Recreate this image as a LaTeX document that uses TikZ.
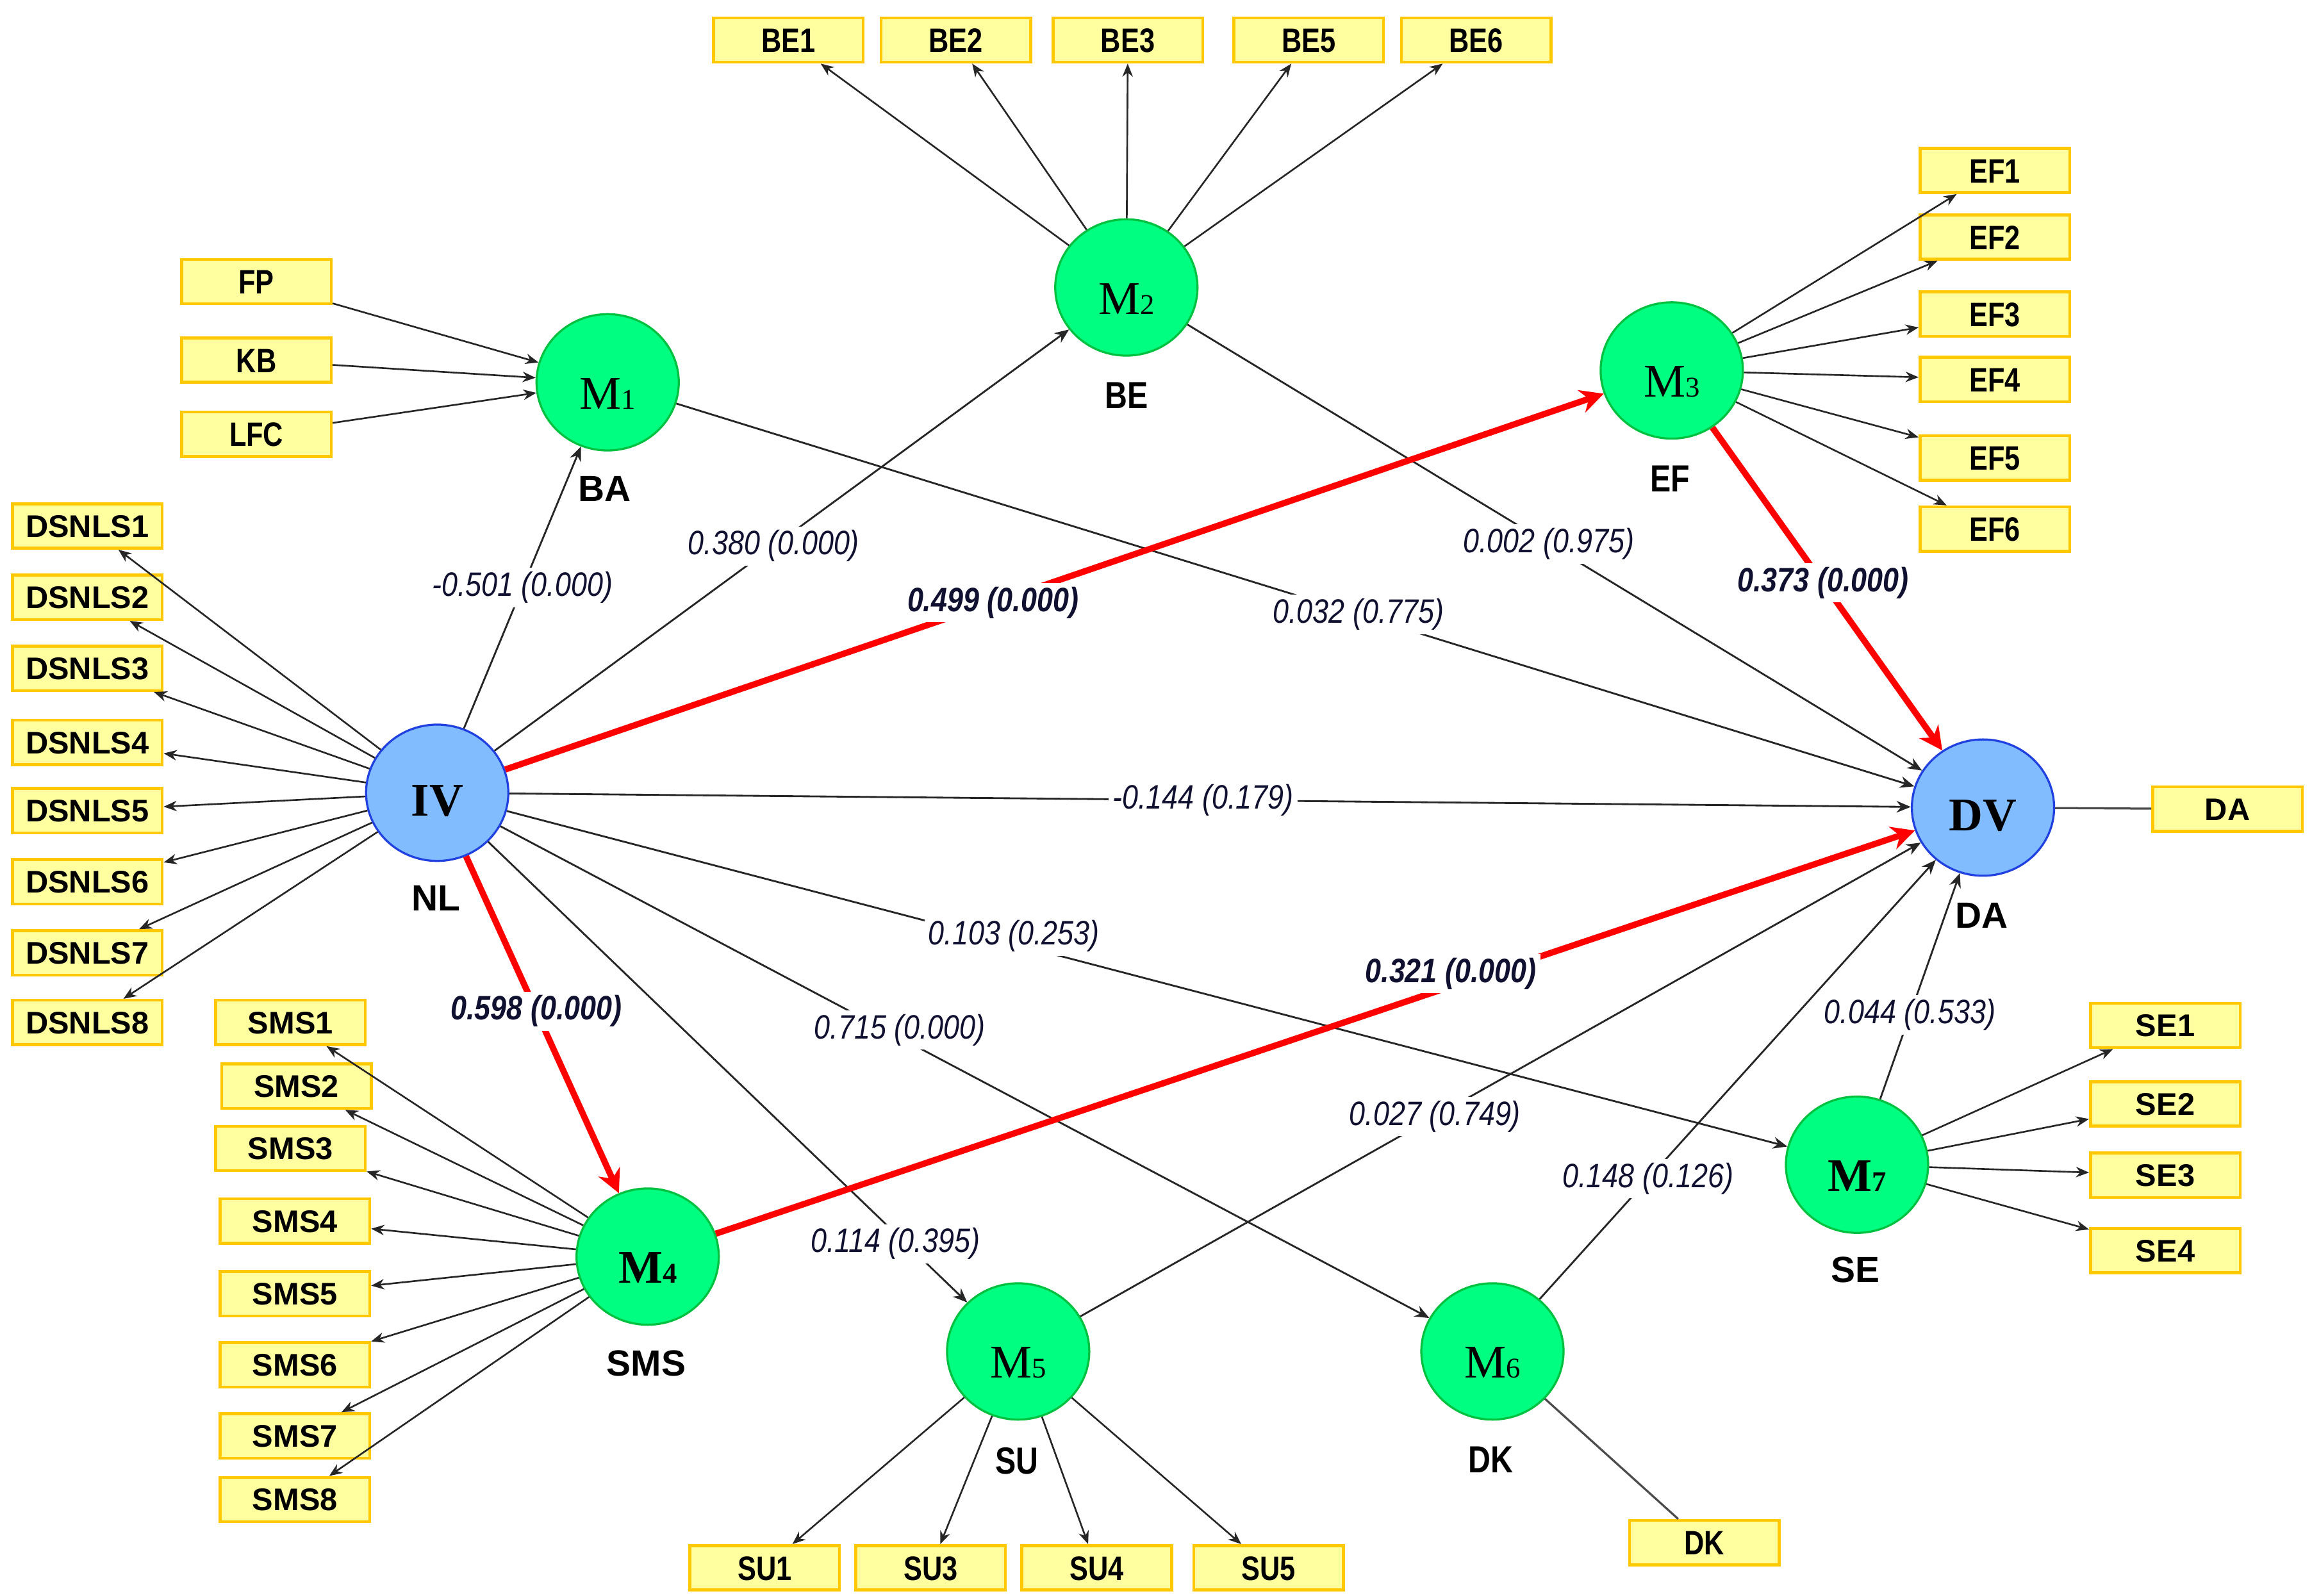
\documentclass[tikz,border=0pt]{standalone}
\usepackage{fontspec}
\setmainfont{Liberation Sans}
\newfontfamily\condsans[FakeStretch=0.82]{Liberation Sans}
\newfontfamily\labsans[FakeStretch=0.85]{Liberation Sans}
\newfontfamily\serifM{Liberation Serif}
\usetikzlibrary{shapes.geometric,arrows.meta}
\definecolor{lvgreen}{HTML}{00FF80}
\definecolor{lvgreenb}{HTML}{00C040}
\definecolor{lvblue}{HTML}{80BCFF}
\definecolor{lvblueb}{HTML}{2040E0}
\definecolor{boxfill}{HTML}{FFFFA0}
\definecolor{boxdraw}{HTML}{FFC800}
\definecolor{labcol}{HTML}{101030}
\definecolor{pathred}{HTML}{FF0000}
\newcommand\mlab[2]{#1{\fontsize{11}{11}\selectfont #2}}
\begin{document}
\begin{tikzpicture}[x=0.02cm,y=-0.02cm,
  lvg/.style={ellipse, draw=lvgreenb, line width=0.8pt, fill=lvgreen,
    minimum width=1.92cm, minimum height=1.84cm, inner sep=0pt,
    text height=0.72cm, text depth=0pt,
    font=\serifM\fontsize{18}{18}\selectfont},
  lvb/.style={lvg, draw=lvblueb, fill=lvblue, text height=0.62cm},
  ind/.style={rectangle, draw=boxdraw, line width=1.1pt, fill=boxfill,
    minimum width=2.02cm, minimum height=0.6cm, inner sep=0pt,
    text height=0.30cm, text depth=0pt,
    font=\bfseries\fontsize{12}{12}\selectfont},
  indc/.style={ind, text height=0.33cm, font=\condsans\bfseries\fontsize{13}{13}\selectfont},
  lvname/.style={inner sep=1pt, font=\bfseries\fontsize{14}{14}\selectfont},
  lvnamec/.style={inner sep=1pt, font=\condsans\bfseries\fontsize{14.5}{14.5}\selectfont},
  indarr/.style={draw=black!85, line width=0.65pt, -{Stealth[length=5pt,width=4pt]}},
  indline/.style={draw=black!70, line width=0.8pt},
  patharr/.style={draw=black!85, line width=0.7pt, -{Stealth[length=5.5pt,width=4.5pt]}},
  redarr/.style={draw=pathred, line width=2.4pt, -{Stealth[length=9pt,width=9pt]}},
  coef/.style={fill=white, inner sep=1.5pt, text=labcol,
    font=\labsans\itshape\fontsize{13}{13}\selectfont},
  coefb/.style={coef, font=\labsans\bfseries\itshape\fontsize{13}{13}\selectfont}
]
\useasboundingbox (0,0) rectangle (1560,1077);
\fill[white] (0,0) rectangle (1560,1077);

% latent variables
\node[lvb] (IV) at (295,535) {\bfseries IV};
\node[lvb] (DV) at (1338,545) {\bfseries DV};
\node[lvg] (M1) at (410,258) {\mlab{M}{1}};
\node[lvg] (M2) at (760,194) {\mlab{M}{2}};
\node[lvg] (M3) at (1128,250) {\mlab{M}{3}};
\node[lvg] (M4) at (437,848) {\bfseries\mlab{M}{4}};
\node[lvg] (M5) at (687,912) {\mlab{M}{5}};
\node[lvg] (M6) at (1007,912) {\mlab{M}{6}};
\node[lvg] (M7) at (1253,786) {\bfseries\mlab{M}{7}};

% latent names
\node[lvname] (nBA) at (408,330) {BA};
\node[lvnamec] (nBE) at (760,267) {BE};
\node[lvnamec] (nEF) at (1127,323) {EF};
\node[lvname] (nNL) at (294,606) {NL};
\node[lvname] (nDA) at (1337,618) {DA};
\node[lvname] (nSMS) at (436,920) {SMS};
\node[lvnamec] (nSU) at (686,986) {SU};
\node[lvnamec] (nDK) at (1006,985) {DK};
\node[lvname] (nSE) at (1252,857) {SE};

% indicators
\node[indc] (BE1) at (532,27) {BE1};
\node[indc] (BE2) at (645,27) {BE2};
\node[indc] (BE3) at (761,27) {BE3};
\node[indc] (BE5) at (883,27) {BE5};
\node[indc] (BE6) at (996,27) {BE6};
\node[indc] (FP) at (173,190) {FP};
\node[indc] (KB) at (173,243) {KB};
\node[indc] (LFC) at (173,293) {LFC};
\node[ind] (DSNLS1) at (59,355) {DSNLS1};
\node[ind] (DSNLS2) at (59,403) {DSNLS2};
\node[ind] (DSNLS3) at (59,451) {DSNLS3};
\node[ind] (DSNLS4) at (59,501) {DSNLS4};
\node[ind] (DSNLS5) at (59,547) {DSNLS5};
\node[ind] (DSNLS6) at (59,595) {DSNLS6};
\node[ind] (DSNLS7) at (59,643) {DSNLS7};
\node[ind] (DSNLS8) at (59,690) {DSNLS8};
\node[ind] (SMS1) at (196,690) {SMS1};
\node[ind] (SMS2) at (200,733) {SMS2};
\node[ind] (SMS3) at (196,775) {SMS3};
\node[ind] (SMS4) at (199,824) {SMS4};
\node[ind] (SMS5) at (199,873) {SMS5};
\node[ind] (SMS6) at (199,921) {SMS6};
\node[ind] (SMS7) at (199,969) {SMS7};
\node[ind] (SMS8) at (199,1012) {SMS8};
\node[indc] (SU1) at (516,1058) {SU1};
\node[indc] (SU3) at (628,1058) {SU3};
\node[indc] (SU4) at (740,1058) {SU4};
\node[indc] (SU5) at (856,1058) {SU5};
\node[indc] (DKb) at (1150,1041) {DK};
\node[indc] (EF1) at (1346,115) {EF1};
\node[indc] (EF2) at (1346,160) {EF2};
\node[indc] (EF3) at (1346,212) {EF3};
\node[indc] (EF4) at (1346,256) {EF4};
\node[indc] (EF5) at (1346,309) {EF5};
\node[indc] (EF6) at (1346,357) {EF6};
\node[ind] (DAb) at (1503,546) {DA};
\node[ind] (SE1) at (1461,692) {SE1};
\node[ind] (SE2) at (1461,745) {SE2};
\node[ind] (SE3) at (1461,793) {SE3};
\node[ind] (SE4) at (1461,844) {SE4};

% measurement arrows
\foreach \i in {1,...,8} \draw[indarr] (IV) -- (DSNLS\i);
\foreach \i in {1,...,8} \draw[indarr] (M4) -- (SMS\i);
\foreach \b in {BE1,BE2,BE3,BE5,BE6} \draw[indarr] (M2) -- (\b);
\foreach \b in {FP,KB,LFC} \draw[indarr] (\b) -- (M1);
\foreach \i in {1,...,6} \draw[indarr] (M3) -- (EF\i);
\foreach \b in {SU1,SU3,SU4,SU5} \draw[indarr] (M5) -- (\b);
\foreach \i in {1,...,4} \draw[indarr] (M7) -- (SE\i);
\draw[indline] (DV) -- (DAb);
\draw[indline] (M6) -- (DKb);

% structural paths
\draw[patharr] (IV) -- node[coef,pos=0.5]{-0.501 (0.000)} (M1);
\draw[patharr] (IV) -- node[coef,pos=0.486]{0.380 (0.000)} (M2);
\draw[patharr] (IV) -- node[coef,pos=0.495]{-0.144 (0.179)} (DV);
\draw[patharr] (IV) -- node[coef,pos=0.396,yshift=3pt]{0.103 (0.253)} (M7);
\draw[patharr] (IV) -- node[coef,pos=0.43,yshift=3pt]{0.715 (0.000)} (M6);
\draw[patharr] (IV) -- node[coef,pos=0.85,yshift=-4pt]{0.114 (0.395)} (M5);
\draw[patharr] (M1) -- node[coef,pos=0.551]{0.032 (0.775)} (DV);
\draw[patharr] (M2) -- node[coef,pos=0.492]{0.002 (0.975)} (DV);
\draw[patharr] (M5) -- node[coef,pos=0.422]{0.027 (0.749)} (DV);
\draw[patharr] (M6) -- node[coef,pos=0.274]{0.148 (0.126)} (DV);
\draw[patharr] (M7) -- node[coef,pos=0.373]{0.044 (0.533)} (DV);
\draw[redarr] (IV) -- node[coefb,pos=0.444]{0.499 (0.000)} (M3);
\draw[redarr] (IV) -- node[coefb,pos=0.46]{0.598 (0.000)} (M4);
\draw[redarr] (M3) -- node[coefb,pos=0.481]{0.373 (0.000)} (DV);
\draw[redarr] (M4) -- node[coefb,pos=0.613,yshift=5pt]{0.321 (0.000)} (DV);
\end{tikzpicture}
\end{document}
